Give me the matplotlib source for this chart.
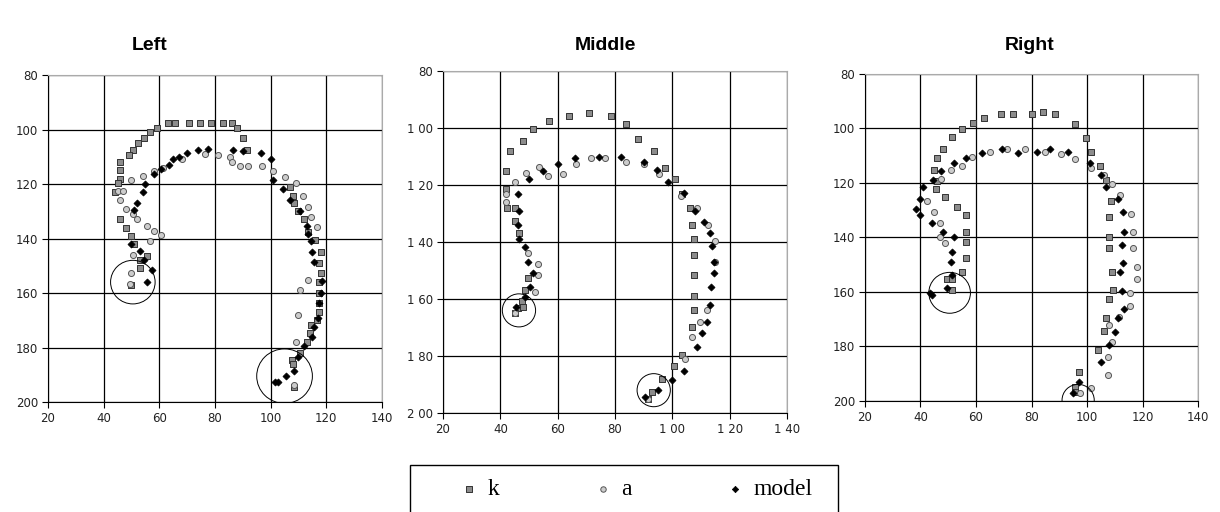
import matplotlib.pyplot as plt
from matplotlib.patches import Ellipse, Rectangle

# === datos ===
titles = ["Left", "Middle", "Right"]
x_ticks = [20, 40, 60, 80, 100, 120, 140]
y_ticks = [80, 100, 120, 140, 160, 180, 200]
x_labels_mid = ["20", "40", "60", "80", "1 00", "1 20", "1 40"]
y_labels_mid = ["80", "1 00", "1 20", "1 40", "1 60", "1 80", "2 00"]

k_left_x = [63, 65.5, 70.5, 74.5, 78.5, 83, 86, 88, 90, 91.5,
            59, 56.5, 54.5, 52.5, 50.5, 49, 46, 46, 46, 45, 44, 46, 48, 50, 51, 55.5, 53, 53, 50,
            107, 108, 108.5, 110, 112, 113.5, 116, 118, 117.5, 118, 117.5, 117.5, 117.5, 117.5,
            116.5, 114.5, 114, 113, 110.5, 107.5, 108, 108.5]
k_left_y = [97.5, 97.5, 97.5, 97.5, 97.5, 97.5, 97.5, 99.3, 103, 107.5,
            99.3, 101, 103, 105, 107.5, 109.3, 112, 115, 118, 119.7, 122.8, 133, 136, 139, 142, 146.5, 148, 151, 157,
            121, 124.3, 127, 130, 133, 137.5, 140.5, 145, 149, 152.5, 156, 160, 163.5, 167,
            170, 171.7, 174.5, 178, 182, 184.5, 186, 194.5]
a_left_x = [50, 54, 45, 47, 46, 48, 50.5, 52, 55.5, 58, 60.5, 56.5, 50.5, 50, 49.5,
            58, 61.5, 68, 76.5, 81, 85.5, 86, 89, 92, 97, 101, 105, 109, 111.5, 113.5, 114.5, 116.5,
            113.5, 110.5, 110, 109, 108.5]
a_left_y = [118.5, 117, 122.7, 122.7, 126, 129, 131, 133, 135.3, 137.2, 138.7, 141, 146, 152.7, 156.6,
            115.2, 114.2, 111, 109, 109.3, 110, 112, 113.4, 113.4, 113.4, 115.2, 117.3, 119.7, 124.3, 128.3, 132, 135.6,
            155.2, 159, 168, 177.8, 193.7]
m_left_x = [101, 104.5, 107, 110.5, 113, 113.5, 114.5, 115, 115.5, 118.5, 118, 117.5, 117, 115.5, 115,
            112, 110, 108.5, 105.5, 101.5, 102.5, 100, 96.5, 90, 86.5, 77.5, 74, 70, 67, 65,
            63.5, 60.5, 58, 55, 54, 52, 51, 50, 53, 54.5, 57.5, 55.5]
m_left_y = [118.5, 122, 126, 130, 135.5, 138.5, 141, 145, 148.5, 155.5, 160, 163.5, 169, 172.5, 176,
            179.5, 183.5, 188.5, 190.5, 192.5, 192.5, 111, 108.5, 108, 107.5, 107, 107.5, 108.5, 110, 111,
            113, 114.5, 116.5, 120, 123, 127, 129.5, 142, 144.5, 148, 151.5, 156]

k_mid_x = [42, 43.5, 48, 51.5, 57, 64, 71, 78.5, 84, 88, 93.5, 97.5, 101, 103.5, 106, 107, 107.5,
           107.5, 107.5, 107.5, 107.5, 107, 103.5, 100.5, 96.5, 93, 91.5,
           42, 42.5, 45, 45, 46.5, 49.5, 48.5, 47.5, 46, 45, 48]
k_mid_y = [115, 108, 104.5, 100.5, 97.7, 95.8, 94.7, 95.8, 98.5, 104, 108, 114, 118, 123, 128, 134, 139,
           144.7, 151.7, 159, 163.7, 169.8, 179.8, 183.5, 188, 192.5, 195,
           121.3, 128, 128, 132.6, 136.8, 152.5, 157, 160.7, 163.2, 165, 162.8]
a_mid_x = [42, 42, 45, 49, 53.5, 56.5, 62, 66.5, 71.5, 76.5, 84, 90, 95.5, 103, 108.5, 112.5, 115, 115,
           112, 109.5, 107, 104.5, 53, 53, 52, 49.5, 45, 91.5]
a_mid_y = [123, 126, 119, 115.8, 113.7, 117, 116, 112.7, 110.4, 110.4, 112, 112.7, 116, 124, 128, 134, 139.8, 147,
           164, 168, 173.3, 181, 147.6, 151.7, 157.5, 143.7, 165, 195]
m_mid_x = [46, 46.5, 46, 46.5, 48.5, 49.5, 51.5, 50.5, 48.5, 45.5, 50, 55, 60, 66, 74.5, 82, 90, 94.5,
           98.5, 104, 108, 111, 113, 114, 114.5, 114.5, 113.5, 113, 112, 110.5, 108.5, 104, 100, 95, 90.5]
m_mid_y = [123, 129, 134, 138.8, 141.8, 147, 151, 155.8, 159.3, 162.8, 117.8, 115, 112.7, 110.5, 110.2, 110.2, 112, 114.6,
           119, 122.8, 129, 133, 137, 141.5, 147, 151, 155.8, 162, 168, 172, 177, 185.3, 188.3, 192, 194.4]

k_right_x = [59, 63, 69, 73.5, 80, 84, 88.5, 95.5, 99.5, 101.5, 104.5, 107, 108.5, 108, 108, 108, 109,
             109.5, 108, 107, 106, 104, 97, 95.5, 95.5, 55, 51.5, 48, 46, 45, 46, 45.5, 49, 53,
             56.5, 56.5, 56.5, 56.5, 55, 49.5, 51.5, 51.5]
k_right_y = [98, 96, 94.7, 94.7, 94.7, 93.8, 94.7, 98.4, 103.4, 108.5, 113.8, 119, 126.5, 132.6, 139.7, 144, 152.6,
             159.3, 162.7, 169.7, 174.2, 181.3, 189.3, 194.8, 196.6, 100.2, 103.3, 107.7, 110.7, 115.3, 119.2, 122.3, 125.3, 128.7,
             131.8, 138, 141.6, 147.4, 152.6, 155.3, 155.3, 159.1]
a_right_x = [42.5, 45, 47, 47, 49, 47.5, 51, 55, 58.5, 65, 71, 77.5, 85, 90.5, 95.5, 101.5, 106, 109, 112, 116,
             116.5, 116.5, 118, 118, 115.5, 115.5, 111.5, 108, 109, 107.5, 107.5, 101.5, 97.5]
a_right_y = [126.6, 130.5, 134.5, 139.7, 142.2, 118.6, 115.3, 113.8, 110.6, 108.5, 107.7, 107.7, 108.5, 109.5, 111.3,
             114.6, 117.1, 120.4, 124.4, 131.4, 138, 144, 150.7, 155.3, 160.3, 165.2, 169.1, 172.2, 178.3, 184, 190.5, 195.1, 197]
m_right_x = [38.5, 40, 40, 41, 44, 44.5, 47.5, 48, 52, 51.5, 51, 51.5, 49.5, 43.5, 44, 52, 56.5, 62, 69.5, 75,
             82, 86.5, 93, 101, 105, 107, 111, 113, 113.5, 112.5, 113, 112, 112.5, 113.5, 111, 110, 108, 105, 97, 95]
m_right_y = [129.6, 131.8, 125.7, 121.6, 134.8, 119, 115.5, 138, 139.7, 145.5, 149, 153.8, 158.7, 160.2, 161, 112.6,
             110.7, 109, 107.7, 109, 108.5, 107.7, 108.5, 112.8, 117, 121.6, 125.7, 130.6, 138, 142.8, 149.5, 152.8,
             159.7, 166.4, 169.7, 174.6, 179.5, 185.6, 193, 197]

# círculos marcados a mano: (x, y, radio)
circles_left = [(50.5, 156, 8), (105, 190.5, 10)]
circles_mid = [(46.5, 164, 5.8), (93.5, 192, 5.8)]
circles_right = [(50.5, 160.3, 7.5), (96.8, 199.7, 5.8)]

panels = [
    (k_left_x, k_left_y, a_left_x, a_left_y, m_left_x, m_left_y, circles_left),
    (k_mid_x, k_mid_y, a_mid_x, a_mid_y, m_mid_x, m_mid_y, circles_mid),
    (k_right_x, k_right_y, a_right_x, a_right_y, m_right_x, m_right_y, circles_right),
]

# posiciones de los ejes en fracción de figura
positions = [
    [0.0393, 0.2148, 0.2738, 0.6387],
    [0.3631, 0.1934, 0.2820, 0.6680],
    [0.7090, 0.2168, 0.2730, 0.6387],
]
title_x = [150 / 1220, 605 / 1220, 1030 / 1220]

fig = plt.figure(figsize=(12.2, 5.12), dpi=100)
fig.patch.set_facecolor('white')

handles = None
for i, (kx, ky, ax_, ay_, mx, my, circ) in enumerate(panels):
    ax = fig.add_axes(positions[i])
    h1 = ax.scatter(kx, ky, marker='s', s=19, facecolor='#8c8c8c', edgecolor='#333333', linewidth=0.7, zorder=3)
    h2 = ax.scatter(ax_, ay_, marker='o', s=19, facecolor='#cccccc', edgecolor='#555555', linewidth=0.7, zorder=3)
    h3 = ax.scatter(mx, my, marker='D', s=13, facecolor='black', edgecolor='black', linewidth=0.5, zorder=4)
    if handles is None:
        handles = [h1, h2, h3]

    for (cx, cy, r) in circ:
        ax.add_patch(Ellipse((cx, cy), 2 * r, 2 * r, fill=False, edgecolor='black', linewidth=0.7, zorder=5))

    ax.set_xlim(20, 140)
    ax.set_ylim(200, 80)
    ax.set_xticks(x_ticks)
    ax.set_yticks(y_ticks)
    if i == 1:
        ax.set_xticklabels(x_labels_mid)
        ax.set_yticklabels(y_labels_mid)
    ax.grid(True, color='black', linewidth=0.9, zorder=0)
    ax.set_axisbelow(True)
    ax.tick_params(labelsize=8.5, labelcolor='#222222', length=4, width=0.8, color='black', pad=3)
    ax.spines['left'].set_color('black')
    ax.spines['bottom'].set_color('black')
    ax.spines['top'].set_color('#aaaaaa')
    ax.spines['right'].set_color('#aaaaaa')

    fig.text(title_x[i], 1 - 45 / 512, titles[i], ha='center', va='center',
             fontsize=14, fontweight='bold', family='Liberation Sans')

# caja de la leyenda (el borde inferior queda fuera de la imagen)
fig.patches.append(Rectangle((410 / 1220, -0.01), 428 / 1220, 1 - 465 / 512 + 0.01,
                             transform=fig.transFigure, fill=False, edgecolor='black', linewidth=1.0))

leg = fig.legend(handles, ['k', 'a', 'model'], loc='center',
                 bbox_to_anchor=(635 / 1220, 1 - 489 / 512), ncol=3,
                 prop={'family': 'Liberation Serif', 'size': 17},
                 frameon=False, handletextpad=0.3, columnspacing=3.85,
                 handlelength=1.0, markerscale=0.9)

plt.savefig('out.png', dpi=100, facecolor='white')
plt.close()
